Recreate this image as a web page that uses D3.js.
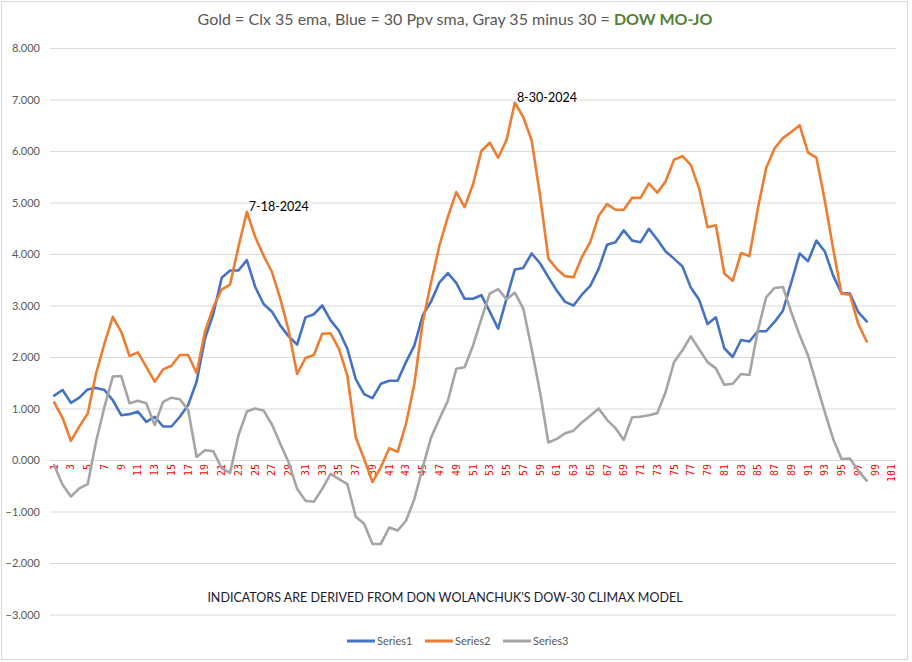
<!DOCTYPE html>
<html>
<head>
<meta charset="utf-8">
<script src="https://cdn.jsdelivr.net/npm/d3@7"></script>
<style>
  body { margin: 0; background: #fff; }
  svg { font-family: Lato, "Open Sans", sans-serif; }
</style>
</head>
<body>
<script>
// chart data
var categories = d3.range(1, 102);   // 1 .. 101 on the category axis

var series1 = [1.25, 1.36, 1.11, 1.21, 1.37, 1.40, 1.36, 1.16, 0.87, 0.89,
  0.94, 0.74, 0.84, 0.65, 0.65, 0.84, 1.07, 1.52, 2.36, 2.84,
  3.54, 3.68, 3.68, 3.88, 3.36, 3.03, 2.88, 2.61, 2.40, 2.24,
  2.77, 2.83, 3.00, 2.71, 2.51, 2.16, 1.57, 1.28, 1.20, 1.48,
  1.54, 1.54, 1.90, 2.22, 2.81, 3.08, 3.45, 3.63, 3.44, 3.13,
  3.13, 3.20, 2.88, 2.55, 3.13, 3.70, 3.73, 4.01, 3.82, 3.55,
  3.29, 3.07, 3.00, 3.21, 3.38, 3.71, 4.18, 4.23, 4.46, 4.26,
  4.23, 4.49, 4.28, 4.05, 3.91, 3.76, 3.35, 3.11, 2.64, 2.77,
  2.17, 2.00, 2.33, 2.30, 2.50, 2.50, 2.68, 2.90, 3.45, 4.01,
  3.86, 4.26, 4.05, 3.58, 3.24, 3.23, 2.87, 2.69];

var series2 = [1.12, 0.82, 0.37, 0.65, 0.90, 1.68, 2.26, 2.78, 2.49, 2.02,
  2.09, 1.81, 1.52, 1.76, 1.83, 2.04, 2.04, 1.69, 2.49, 2.97,
  3.31, 3.41, 4.14, 4.82, 4.33, 3.97, 3.65, 3.13, 2.51, 1.67,
  1.98, 2.04, 2.45, 2.46, 2.16, 1.64, 0.44, 0.02, -0.43, -0.14,
  0.23, 0.16, 0.70, 1.48, 2.68, 3.45, 4.17, 4.72, 5.20, 4.91,
  5.35, 6.00, 6.16, 5.87, 6.21, 6.94, 6.66, 6.21, 5.14, 3.91,
  3.71, 3.57, 3.55, 3.94, 4.23, 4.74, 4.97, 4.86, 4.86, 5.09,
  5.09, 5.37, 5.19, 5.41, 5.83, 5.90, 5.73, 5.27, 4.52, 4.56,
  3.62, 3.48, 4.02, 3.96, 4.88, 5.67, 6.05, 6.25, 6.37, 6.50,
  5.97, 5.87, 5.04, 4.10, 3.23, 3.21, 2.64, 2.30];

var series3 = [-0.10, -0.48, -0.71, -0.55, -0.47, 0.36, 1.03, 1.62, 1.63, 1.10,
  1.15, 1.10, 0.68, 1.13, 1.21, 1.18, 0.97, 0.06, 0.19, 0.17,
  -0.16, -0.25, 0.48, 0.94, 1.00, 0.96, 0.69, 0.31, -0.05, -0.56,
  -0.79, -0.81, -0.56, -0.27, -0.37, -0.47, -1.10, -1.24, -1.63, -1.63,
  -1.31, -1.37, -1.18, -0.76, -0.14, 0.44, 0.80, 1.15, 1.77, 1.80,
  2.22, 2.74, 3.23, 3.32, 3.12, 3.25, 2.94, 2.16, 1.32, 0.34,
  0.41, 0.52, 0.57, 0.73, 0.86, 1.00, 0.78, 0.62, 0.39, 0.83,
  0.84, 0.87, 0.91, 1.32, 1.90, 2.13, 2.40, 2.15, 1.90, 1.78,
  1.46, 1.48, 1.67, 1.65, 2.51, 3.16, 3.34, 3.36, 2.87, 2.42,
  2.03, 1.48, 0.93, 0.41, 0.02, 0.03, -0.21, -0.40];

var seriesNames = ['Series1', 'Series2', 'Series3'];
var yTicks = d3.range(-3, 9);   // -3.000 .. 8.000
var callouts = [{ label: '7-18-2024', at: 24, series: 2 }, { label: '8-30-2024', at: 56, series: 2 }];

var dimensions = { width: 912, height: 662 };
var colors = ['#4472C4', '#ED7D31', '#A5A5A5'];

var svg = d3.select('body').append('svg')
  .attr('width', dimensions.width).attr('height', dimensions.height);

// chart area frame
svg.append('rect').attr('x', 1.5).attr('y', 1.5).attr('width', 906).attr('height', 658)
  .attr('fill', '#fff').attr('stroke', '#d9d9d9');

var x = d3.scaleBand().domain(categories).range([50, 896]).padding(0);
var y = d3.scaleLinear().domain([-3, 8]).range([614.5, 48]);

// gridlines + y labels
var yAxis = svg.append('g').attr('transform', 'translate(50,0)')
  .call(d3.axisLeft(y).tickValues(yTicks).tickFormat(d3.format('.3f')).tickSize(-846).tickPadding(10));
yAxis.select('.domain').remove();
yAxis.selectAll('line').attr('stroke', '#d9d9d9');
yAxis.selectAll('text').attr('fill', '#595959').style('font-size', '11px')
  .style('font-family', 'Lato, sans-serif');

// category labels, every other one, rotated, red
var xAxis = svg.append('g').attr('transform', 'translate(0,' + y(0) + ')')
  .call(d3.axisBottom(x).tickValues(categories.filter(function(d) { return d % 2 === 1; })).tickSize(0));
xAxis.select('.domain').remove();
xAxis.selectAll('text')
  .attr('fill', '#ff0000')
  .style('font-size', '10px')
  .style('font-family', '"DejaVu Sans Mono", monospace')
  .attr('text-anchor', 'end')
  .attr('dy', '0.35em')
  .attr('transform', 'translate(0,4) rotate(-90)')
  .attr('x', 0).attr('y', 0);

// series lines
var allSeries = [series1, series2, series3];
var line = d3.line()
  .x(function(d, i) { return x(categories[i]) + x.bandwidth() / 2; })
  .y(function(d) { return y(d); });

svg.selectAll('path.series')
  .data(allSeries)
  .enter()
  .append('path')
  .attr('class', 'series')
  .attr('d', line)
  .attr('fill', 'none')
  .attr('stroke', function(d, i) { return colors[i]; })
  .attr('stroke-width', 2.6)
  .attr('stroke-linejoin', 'round')
  .attr('stroke-linecap', 'round');

// date callouts next to the orange peaks
svg.selectAll('text.callout')
  .data(callouts)
  .enter()
  .append('text')
  .attr('class', 'callout')
  .attr('x', function(d) { return x(d.at) + x.bandwidth() / 2 + 2; })
  .attr('y', function(d) { return y(allSeries[d.series - 1][d.at - 1]) - 1; })
  .attr('fill', '#000')
  .style('font-size', '12.5px')
  .text(function(d) { return d.label; });

// title
var title = svg.append('text').attr('x', 455).attr('y', 25).attr('text-anchor', 'middle')
  .style('font-size', '16px').attr('fill', '#595959');
title.append('tspan').text('Gold = Clx 35 ema, Blue = 30 Ppv sma, Gray 35 minus 30 = ');
title.append('tspan').text('DOW MO-JO').attr('fill', '#548235').style('font-weight', 'bold');

// note under the plot
svg.append('text').attr('x', 445).attr('y', 602).attr('text-anchor', 'middle')
  .style('font-size', '12.5px').attr('fill', '#1a1a2e')
  .text("INDICATORS ARE DERIVED FROM DON WOLANCHUK'S DOW-30 CLIMAX MODEL");

// legend
var legend = svg.append('g').attr('transform', 'translate(347,641)');
var item = legend.selectAll('g').data(seriesNames).enter().append('g')
  .attr('transform', function(d, i) { return 'translate(' + [0, 78, 156][i] + ',0)'; });
item.append('line').attr('x1', 0).attr('x2', 28).attr('y1', 0).attr('y2', 0)
  .attr('stroke', function(d, i) { return colors[i]; }).attr('stroke-width', 3);
item.append('text').attr('x', 30).attr('y', 4).style('font-size', '11px').attr('fill', '#595959')
  .text(function(d) { return d; });
</script>
</body>
</html>
